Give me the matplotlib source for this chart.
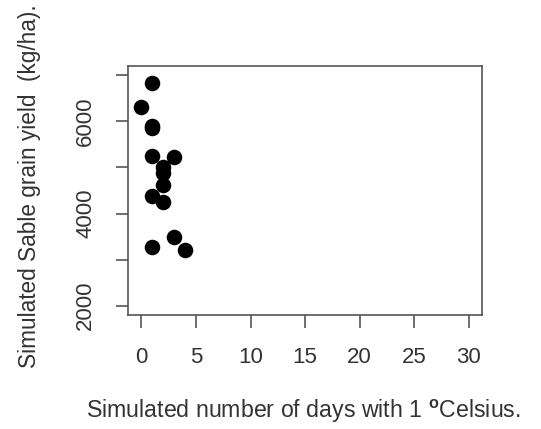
import matplotlib
matplotlib.use("Agg")
import matplotlib.pyplot as plt

# days with 1 C (x) vs simulated yield (y)
days = [1, 0, 1, 1, 1, 3, 2, 2, 2, 1, 2, 3, 1, 4]
yield_kg = [6840, 6320, 5900, 5860, 5250, 5230, 5000, 4880, 4610, 4390, 4240, 3490, 3270, 3200]

x_ticks = [0, 5, 10, 15, 20, 25, 30]
y_ticks = [2000, 3000, 4000, 5000, 6000, 7000]
y_labels = ["2000", "", "4000", "", "6000", ""]

plt.rcParams["font.family"] = ["Liberation Sans", "DejaVu Sans"]
plt.rcParams["mathtext.fontset"] = "custom"
plt.rcParams["mathtext.rm"] = "Liberation Sans"
plt.rcParams["mathtext.bf"] = "Liberation Sans:bold"

txt = "#333333"
line = "#555555"

fig = plt.figure(figsize=(5.41, 4.29), dpi=100)
ax = fig.add_axes([0.237, 0.266, 0.654, 0.58])

ax.scatter(days, yield_kg, s=125, color="black", zorder=3, linewidths=0)

ax.set_xlim(-1.2, 31.2)
ax.set_ylim(1800, 7200)
ax.set_xticks(x_ticks)
ax.set_yticks(y_ticks)
ax.set_yticklabels(y_labels, rotation=90, va="center")

for s in ax.spines.values():
    s.set_color(line)
    s.set_linewidth(1.2)
ax.tick_params(direction="out", length=9, width=1.2, color=line,
               labelsize=16, labelcolor=txt)
ax.tick_params(axis="x", pad=14)
ax.tick_params(axis="y", pad=14)

fig.text(0.055, 0.565, "Simulated Sable grain yield  (kg/ha).", rotation=90,
         ha="center", va="center", fontsize=16.3, color=txt)
fig.text(0.56, 0.04, r"Simulated number of days with 1 $^{\mathbf{o}}$Celsius.",
         ha="center", va="center", fontsize=16.7, color=txt)

fig.savefig("out.png", dpi=100)
